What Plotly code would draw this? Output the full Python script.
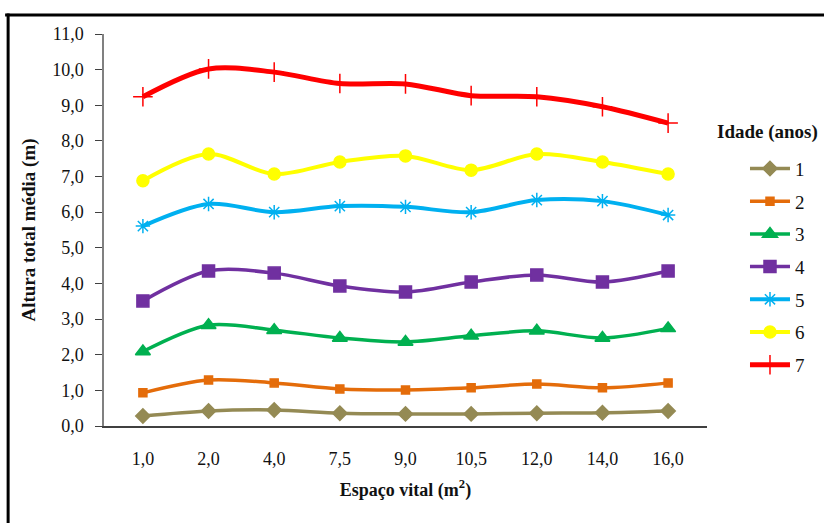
import plotly.graph_objects as go

# Espaço vital (m²) categories and mean total height (m) per age class
espaco = ["1,0", "2,0", "4,0", "7,5", "9,0", "10,5", "12,0", "14,0", "16,0"]
idade_1 = [0.28, 0.42, 0.45, 0.36, 0.34, 0.34, 0.36, 0.37, 0.42]
idade_2 = [0.93, 1.29, 1.21, 1.04, 1.01, 1.07, 1.18, 1.07, 1.21]
idade_3 = [2.09, 2.83, 2.69, 2.47, 2.36, 2.53, 2.67, 2.47, 2.74]
idade_4 = [3.51, 4.35, 4.29, 3.93, 3.76, 4.04, 4.24, 4.04, 4.35]
idade_5 = [5.61, 6.23, 6.00, 6.17, 6.15, 6.00, 6.34, 6.31, 5.92]
idade_6 = [6.88, 7.63, 7.07, 7.41, 7.58, 7.18, 7.63, 7.41, 7.07]
idade_7 = [9.24, 10.02, 9.93, 9.61, 9.60, 9.27, 9.24, 8.96, 8.50]
y_ticks = [0, 1, 2, 3, 4, 5, 6, 7, 8, 9, 10, 11]

FONT = "'Liberation Serif', 'Times New Roman', serif"

series = [
    ("1", idade_1, "#948A54", "diamond", 11, 3.5),
    ("2", idade_2, "#E46C0A", "square", 8, 3.5),
    ("3", idade_3, "#00B050", "triangle-up", 13, 3.5),
    ("4", idade_4, "#7030A0", "square", 12, 3.5),
    ("5", idade_5, "#00B0F0", "asterisk-open", 12, 4),
    ("6", idade_6, "#FFFF00", "circle", 12, 4),
    ("7", idade_7, "#FF0000", "cross-thin-open", 14, 5),
]

fig = go.Figure()
for name, vals, color, symbol, msize, lw in series:
    fig.add_trace(go.Scatter(
        x=espaco, y=vals, name=name, legendgroup=name,
        mode="lines+markers",
        line=dict(color=color, width=lw, shape="spline", smoothing=0.9),
        marker=dict(symbol=symbol, size=msize, color=color,
                    line=dict(color=color, width=1.5)),
    ))

fig.update_layout(
    width=824, height=523,
    margin=dict(l=104, r=117, t=34, b=97),
    paper_bgcolor="white", plot_bgcolor="white",
    separators=",.",
    font=dict(family=FONT, size=18, color="#111"),
    showlegend=True,
    legend=dict(x=1.063, y=0.705, xanchor="left", yanchor="top",
                tracegroupgap=5, font=dict(family=FONT, size=19),
                bgcolor="rgba(0,0,0,0)", itemwidth=40),
    xaxis=dict(
        type="category", showgrid=False, ticks="",
        showline=True, linecolor="#404040", linewidth=1.5,
        ticklabelstandoff=16, tickfont=dict(family=FONT, size=18),
        title=dict(text="<b>Espaço vital (m<sup>2</sup>)</b>",
                   font=dict(family=FONT, size=18), standoff=15),
    ),
    yaxis=dict(
        range=[0, 11], tickvals=y_ticks, tickformat=".1f",
        showgrid=False, zeroline=False,
        showline=True, linecolor="#808080", linewidth=1.5,
        ticks="outside", ticklen=7, tickcolor="#404040",
        ticklabelstandoff=8, tickfont=dict(family=FONT, size=18),
        title=dict(text="<b>Altura total média (m)</b>",
                   font=dict(family=FONT, size=19), standoff=12),
    ),
    annotations=[dict(
        text="<b>Idade (anos)</b>", x=1.101, y=0.75,
        xanchor="center", yanchor="middle",
        xref="paper", yref="paper", showarrow=False,
        font=dict(family=FONT, size=19, color="#111"),
    )],
    shapes=[
        dict(type="line", xref="paper", yref="paper",
             x0=-0.164, x1=1.2, y0=1.0485, y1=1.0485,
             line=dict(color="black", width=3)),
        dict(type="line", xref="paper", yref="paper",
             x0=-0.159, x1=-0.159, y0=1.052, y1=-0.26,
             line=dict(color="black", width=3)),
    ],
)

fig.write_html("out.html")
